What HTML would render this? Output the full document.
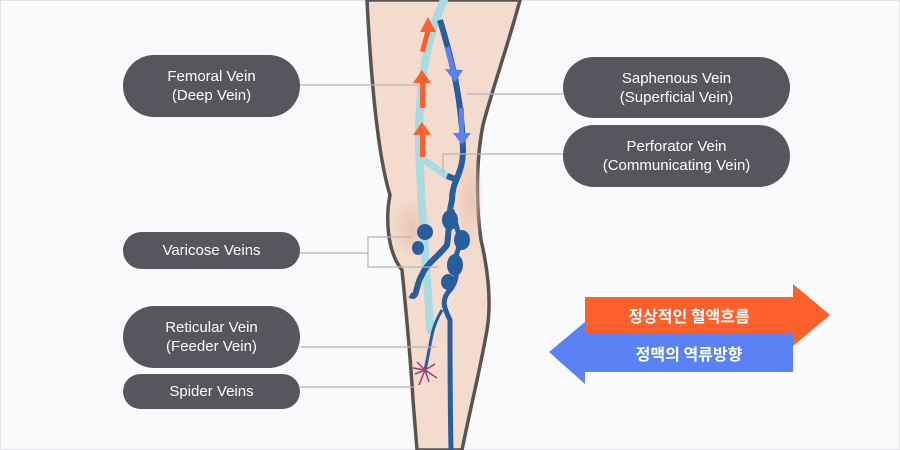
<!DOCTYPE html>
<html><head><meta charset="utf-8"><style>
body{margin:0}
.wrap{position:relative;width:900px;height:450px;background:#fafafc;overflow:hidden;font-family:"Liberation Sans","Noto Sans CJK KR",sans-serif}
.pill{position:absolute;background:#57565e;color:#fff;border-radius:31px;display:flex;align-items:center;justify-content:center;text-align:center;font-size:15px;line-height:19px}
.k{position:absolute;color:#fff;font-family:"Noto Sans CJK KR",sans-serif;font-weight:bold;font-size:16px;text-align:center}
</style></head><body><div class="wrap">
<svg width="900" height="450" style="position:absolute;left:0;top:0">
<defs>
<radialGradient id="kn" cx="0.5" cy="0.5" r="0.5"><stop offset="0" stop-color="#e8c6b4"/><stop offset="1" stop-color="#e8c6b4" stop-opacity="0"/></radialGradient>
</defs>
<rect x="0.5" y="0.5" width="899" height="449" fill="none" stroke="#e4e4e8"/>
<path d="M367,0 C370,60 376,150 390,195 C386,215 386,250 402,270 C405,300 410,350 413,400 L417,450 L462,450 C470,410 480,370 487,330 C492,300 487,265 481,240 C476,205 476,160 483,125 C492,90 508,45 520,0 Z" fill="#f3dccd" stroke="#5a5450" stroke-width="3.5"/>
<ellipse cx="412" cy="228" rx="22" ry="32" fill="url(#kn)"/>
<ellipse cx="470" cy="200" rx="14" ry="50" fill="url(#kn)"/>
<path d="M444,0 C430,30 420,70 419,130 C419,190 426,250 430,330" fill="none" stroke="#a9dbe3" stroke-width="8" stroke-linecap="round"/>
<path d="M424,160 L447,176" stroke="#a9dbe3" stroke-width="7"/>
<path d="M440,20 C452,60 462,100 463,150 C463,175 452,180 452,200 C448,215 450,225 447,245 C440,255 425,265 422,275 C415,285 418,300 410,295" fill="none" stroke="#285d9e" stroke-width="6"/>
<path d="M447,176 L458,180" stroke="#285d9e" stroke-width="6"/>
<path d="M452,210 C455,225 462,235 458,250 C452,265 462,275 450,290 C440,300 445,310 450,320 C450,350 450,400 451,450" fill="none" stroke="#285d9e" stroke-width="5"/>
<g fill="#285d9e"><ellipse cx="450" cy="220" rx="8" ry="10"/><ellipse cx="462" cy="240" rx="8" ry="10"/><ellipse cx="455" cy="265" rx="8" ry="11"/><ellipse cx="448" cy="282" rx="7" ry="8"/><ellipse cx="425" cy="232" rx="8" ry="8"/><ellipse cx="418" cy="248" rx="6" ry="7"/><path d="M442,310 C430,330 432,340 425,370" fill="none" stroke="#285d9e" stroke-width="3"/></g>
<g fill="none" stroke="#a23a6e" stroke-width="1.5"><path d="M425,370 l-8,-8 M425,370 l10,-6 M425,370 l-10,4 M425,370 l4,12 M425,370 l12,8 M425,370 l-6,15 M425,370 l-12,-2"/></g>
<g fill="#ff5f2a"><rect x="423" y="30" width="5" height="22" transform="rotate(15 425 40)"/><polygon points="428,17 420,32 436,32"/><rect x="420" y="83" width="5" height="25"/><polygon points="422,70 413,83 431,83"/><rect x="420" y="135" width="5" height="22"/><polygon points="422,122 413,135 431,135"/></g>
<g fill="#5b82f5"><rect x="448" y="47" width="5" height="25" transform="rotate(-15 450 60)"/><polygon points="455,82 445,69 463,70"/><rect x="459" y="108" width="5" height="25"/><polygon points="462,145 453,133 471,133"/></g>
<g stroke="#b5b5b8" stroke-width="1.2" fill="none">
<path d="M300,85 L418,85"/><path d="M467,94 L563,94"/><path d="M443,173 L443,154 L563,154"/>
<path d="M300,253 L368,253 L368,237 L412,237 M368,253 L368,267 L438,267"/>
<path d="M300,347 L436,347"/><path d="M300,387 L415,387"/>
</g>
<polygon points="585,297 793,297 793,284 830,315 793,346 793,333 585,333" fill="#ff5f2a"/>
<polygon points="793,333 793,372 585,372 585,384 549,352 585,322 585,333" fill="#5b82f5"/>
</svg>
<div class="pill" style="left:123px;top:55px;width:177px;height:62px">Femoral Vein<br>(Deep Vein)</div>
<div class="pill" style="left:123px;top:232px;width:177px;height:37px">Varicose Veins</div>
<div class="pill" style="left:123px;top:306px;width:177px;height:62px">Reticular Vein<br>(Feeder Vein)</div>
<div class="pill" style="left:123px;top:374px;width:177px;height:35px">Spider Veins</div>
<div class="pill" style="left:563px;top:57px;width:227px;height:61px">Saphenous Vein<br>(Superficial Vein)</div>
<div class="pill" style="left:563px;top:125px;width:227px;height:62px">Perforator Vein<br>(Communicating Vein)</div>
<div class="k" style="left:585px;top:303px;width:208px;line-height:24px">정상적인 혈액흐름</div>
<div class="k" style="left:585px;top:341px;width:208px;line-height:24px">정맥의 역류방향</div>
</div></body></html>
